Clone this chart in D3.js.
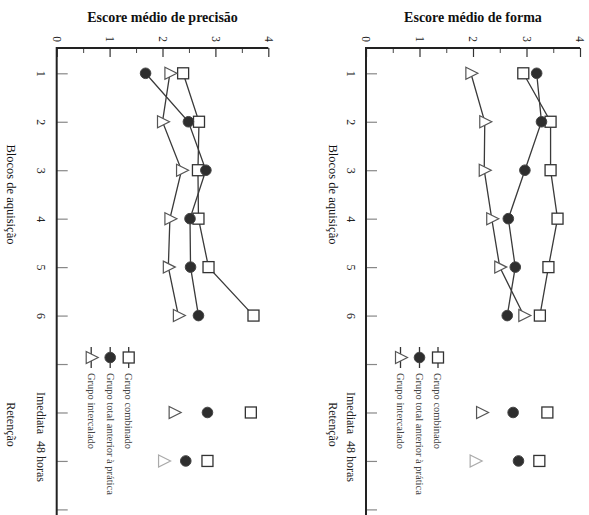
<!DOCTYPE html>
<html>
<head>
<meta charset="utf-8">
<script src="https://cdn.jsdelivr.net/npm/d3@7"></script>
<style>
  body { margin: 0; background: #fff; }
  text { font-family: "Liberation Serif", "DejaVu Serif", serif; }
</style>
</head>
<body>
<script>
// positions along the block axis: 1-6 acquisition, 8-9 retention
var blockPos = [1, 2, 3, 4, 5, 6];
var retentionPos = [8, 9];
var blockLabels = ["1", "2", "3", "4", "5", "6"];
var retentionLabels = ["Imediata", "48 horas"];
var valueTicks = [0, 1, 2, 3, 4];
var minorTicks = [0.5, 1.5, 2.5, 3.5];
var groupNames = ["Grupo combinado", "Grupo total anterior à prática", "Grupo intercalado"];

// Escore médio de precisão
var precisaoCombinado = [2.39, 2.69, 2.67, 2.68, 2.87, 3.72];
var precisaoTotal = [1.68, 2.49, 2.82, 2.52, 2.53, 2.68];
var precisaoIntercalado = [2.14, 2.00, 2.36, 2.14, 2.11, 2.30];
var precisaoRetCombinado = [3.67, 2.85];
var precisaoRetTotal = [2.85, 2.44];
var precisaoRetIntercalado = [2.22, 2.02];

// Escore médio de forma
var formaCombinado = [2.94, 3.45, 3.45, 3.58, 3.41, 3.25];
var formaTotal = [3.19, 3.28, 2.97, 2.66, 2.79, 2.64];
var formaIntercalado = [1.96, 2.22, 2.21, 2.35, 2.50, 2.95];
var formaRetCombinado = [3.39, 3.24];
var formaRetTotal = [2.75, 2.85];
var formaRetIntercalado = [2.16, 2.04];

var width = 589,
    height = 515,
    axisTop = 48;

var svg = d3.select("body")
    .append("svg")
    .attr("width", width)
    .attr("height", height);

var y = d3.scaleLinear()
    .domain([1, 10])
    .range([73.3, 509.4]);

var shapes = ["square", "circle", "triangle"];

function drawMarker(g, shape, cx, cy, faint) {
    if (shape == "square") {
        g.append("rect")
            .attr("x", cx - 5.5).attr("y", cy - 5.5)
            .attr("width", 11).attr("height", 11)
            .attr("fill", "#fff").attr("stroke", faint ? "#999" : "#333").attr("stroke-width", 1.3);
    } else if (shape == "circle") {
        g.append("circle")
            .attr("cx", cx).attr("cy", cy).attr("r", 5.3)
            .attr("fill", "#2e2e2e").attr("stroke", "#444");
    } else {
        g.append("path")
            .attr("d", "M" + (cx - 5) + "," + (cy - 6) + "L" + (cx + 7) + "," + cy + "L" + (cx - 5) + "," + (cy + 6) + "Z")
            .attr("fill", "#fff").attr("stroke", faint ? "#aaa" : "#555").attr("stroke-width", 1.2);
    }
}

function drawPanel(title, x0, x1, outerOff, series, retention) {
    var x = d3.scaleLinear().domain([0, 4]).range([x0, x1]);
    var g = svg.append("g");

    // title
    g.append("text")
        .attr("x", (x0 + x1) / 2)
        .attr("y", 22)
        .attr("text-anchor", "middle")
        .attr("font-weight", "bold")
        .attr("font-size", "14px")
        .attr("fill", "#111")
        .text(title);

    // value axis (drawn at top, ticks pointing into the plot)
    var ax = g.append("g")
        .attr("transform", "translate(0," + axisTop + ")")
        .call(d3.axisTop(x).tickValues(valueTicks).tickFormat(d3.format("d"))
            .tickSizeInner(-9).tickSizeOuter(0));
    ax.select(".domain").remove();
    ax.selectAll(".tick line").attr("stroke", "#333").attr("stroke-width", 1.2);
    ax.selectAll(".tick text")
        .attr("y", 0).attr("dy", "0.35em")
        .attr("text-anchor", "middle")
        .attr("transform", "translate(0,-9) rotate(90)")
        .attr("font-size", "11.5px")
        .attr("font-family", "Liberation Serif, serif")
        .attr("fill", "#222");

    var mx = g.append("g")
        .attr("transform", "translate(0," + axisTop + ")")
        .call(d3.axisTop(x).tickValues(minorTicks).tickSizeInner(-5).tickSizeOuter(0).tickFormat(""));
    mx.select(".domain").remove();
    mx.selectAll(".tick line").attr("stroke", "#444");

    // block axis (drawn on the left, ticks pointing into the plot)
    var tickNames = {};
    blockPos.forEach(function(p, i) { tickNames[p] = blockLabels[i]; });
    retentionPos.forEach(function(p, i) { tickNames[p] = retentionLabels[i]; });

    var ay = g.append("g")
        .attr("transform", "translate(" + x0 + ",0)")
        .call(d3.axisLeft(y).tickValues(d3.range(1, 11)).tickSizeInner(-11).tickSizeOuter(0)
            .tickFormat(function(d) { return tickNames[d] || ""; }));
    ay.select(".domain").remove();
    ay.selectAll(".tick line").attr("stroke", "#888").attr("stroke-width", 1.2);
    ay.selectAll(".tick text")
        .attr("x", 0).attr("dy", "0.35em")
        .attr("text-anchor", "middle")
        .attr("transform", "translate(-15,0) rotate(90)")
        .attr("font-size", "12px")
        .attr("font-family", "Liberation Serif, serif")
        .attr("fill", "#222");

    // axis lines
    g.append("line")
        .attr("x1", x0).attr("x2", x1)
        .attr("y1", axisTop).attr("y2", axisTop)
        .attr("stroke", "#222").attr("stroke-width", 2);
    g.append("line")
        .attr("x1", x0).attr("x2", x0)
        .attr("y1", axisTop - 1).attr("y2", height)
        .attr("stroke", "#222").attr("stroke-width", 2);

    // axis titles
    g.append("text")
        .attr("transform", "translate(" + (x0 - outerOff) + "," + d3.mean([y(1), y(6)]) + ") rotate(90)")
        .attr("dy", "0.35em")
        .attr("text-anchor", "middle")
        .attr("font-size", "12.5px")
        .attr("fill", "#111")
        .text("Blocos de aquisição");
    g.append("text")
        .attr("transform", "translate(" + (x0 - outerOff) + "," + (y(8) + 12) + ") rotate(90)")
        .attr("dy", "0.35em")
        .attr("text-anchor", "middle")
        .attr("font-size", "12px")
        .attr("fill", "#222")
        .text("Retenção");

    // lines through acquisition blocks
    var line = d3.line()
        .x(function(d) { return x(d); })
        .y(function(d, i) { return y(blockPos[i]); });

    series.forEach(function(s) {
        g.append("path")
            .datum(s)
            .attr("d", line)
            .attr("fill", "none")
            .attr("stroke", "#3a3a3a")
            .attr("stroke-width", 1.3);
    });

    // markers
    series.forEach(function(s, k) {
        s.forEach(function(v, i) {
            drawMarker(g, shapes[k], x(v), y(blockPos[i]), false);
        });
    });
    retention.forEach(function(s, k) {
        s.forEach(function(v, i) {
            drawMarker(g, shapes[k], x(v), y(retentionPos[i]), i == 1 && k == 2);
        });
    });

    // legend
    var legendOff = [72, 53.5, 34.5];
    groupNames.forEach(function(name, k) {
        var lx = x0 + legendOff[k];
        g.append("line")
            .attr("x1", lx).attr("x2", lx)
            .attr("y1", 347).attr("y2", 368)
            .attr("stroke", "#333").attr("stroke-width", 1.3);
        drawMarker(g, shapes[k], lx, 357.5, false);
        g.append("text")
            .attr("transform", "translate(" + lx + ",373) rotate(90)")
            .attr("dy", "0.35em")
            .attr("font-size", "10.5px")
            .attr("fill", "#444")
            .text(name);
    });
}

drawPanel("Escore médio de precisão", 56.7, 268.3, 45,
    [precisaoCombinado, precisaoTotal, precisaoIntercalado],
    [precisaoRetCombinado, precisaoRetTotal, precisaoRetIntercalado]);

drawPanel("Escore médio de forma", 366, 580, 33,
    [formaCombinado, formaTotal, formaIntercalado],
    [formaRetCombinado, formaRetTotal, formaRetIntercalado]);
</script>
</body>
</html>
